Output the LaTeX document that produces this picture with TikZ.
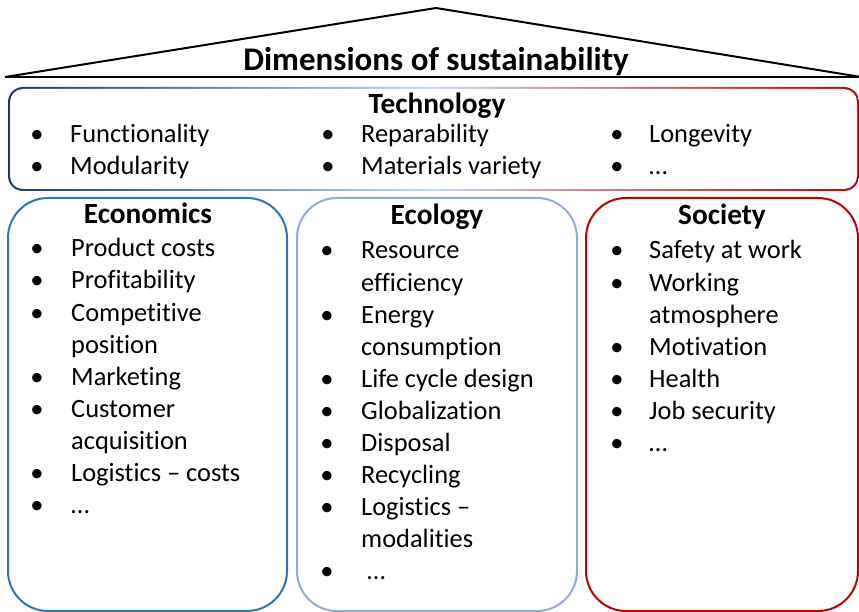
\documentclass[tikz,border=0pt]{standalone}
\usepackage{fontspec}
\setmainfont{Carlito}[Ligatures={NoCommon}]
\definecolor{econ}{HTML}{2E75B6}
\definecolor{ecol}{HTML}{8FAADC}
\definecolor{soc}{HTML}{C00000}
\definecolor{technavy}{HTML}{203864}
\definecolor{techmid}{HTML}{C5D9F1}
\definecolor{techred}{HTML}{C00000}
\tikzset{
  item/.style={anchor=base west, inner sep=0pt, font=\fontsize{26.4}{30}\selectfont},
  bul/.style={anchor=base, inner sep=0pt, font=\fontsize{26.4}{30}\selectfont},
  head/.style={anchor=base, inner sep=0pt, font=\fontsize{29.3}{34}\selectfont\bfseries},
  ttl/.style={anchor=base, inner sep=0pt, font=\fontsize{33}{38}\selectfont\bfseries},
  pillar/.style={line width=2pt, rounded corners=40pt},
  roofline/.style={line width=2pt, line join=miter}
}
\begin{document}
\begin{tikzpicture}[x=1pt,y=-1pt]
\useasboundingbox (0,0) rectangle (859,612);
% roof
\coordinate (rl) at (5,77);
\coordinate (ra) at (436,8);
\coordinate (rr) at (861,77);
\draw[roofline] (rl) -- (ra) -- (rr);
\draw[roofline] (rl) -- (rr);
\node[ttl] (title) at (436,71) {Dimensions of sustainability};
% technology box with gradient border
\shade[rounded corners=15pt, left color=technavy, right color=techred, middle color=techmid] (8,87) rectangle (859,191);
\fill[white, rounded corners=13pt] (10,89) rectangle (857,189);
\node[head] (tech) at (437,114) {Technology};
\node[bul] (tb1) at (37,143) {•};
\node[item] (t1) at (70,143) {Functionality};
\node[bul] (tb2) at (37,175) {•};
\node[item] (t2) at (70,175) {Modularity};
\node[bul] (tb3) at (328,143) {•};
\node[item] (t3) at (361,143) {Reparability};
\node[bul] (tb4) at (328,175) {•};
\node[item] (t4) at (361,175) {Materials variety};
\node[bul] (tb5) at (617,143) {•};
\node[item] (t5) at (649,143) {Longevity};
\node[bul] (tb6) at (617,175) {•};
\node[item] (t6) at (649,175) {…};
% pillars
\draw[pillar, econ] (8,198) rectangle (287,611);
\draw[pillar, ecol] (297,198) rectangle (577,611);
\draw[pillar, soc] (586,198) rectangle (858,611);
% economics
\node[head] (eh) at (148,224) {Economics};
\foreach \t [count=\i] in {Product costs, Profitability, Competitive, position, Marketing, Customer, acquisition, Logistics – costs, …}{
  \node[item] (e\i) at (71,{257+32*(\i-1)}) {\t};
}
\foreach \i in {1,2,3,5,6,8,9}{
  \node[bul] (eb\i) at (37,{257+32*(\i-1)}) {•};
}
% ecology
\node[head] (oh) at (437,225) {Ecology};
\foreach \t [count=\i] in {Resource, efficiency, Energy, consumption, Life cycle design, Globalization, Disposal, Recycling, Logistics –, modalities}{
  \node[item] (o\i) at (361,{259+32*(\i-1)}) {\t};
}
\foreach \i in {1,3,5,6,7,8,9}{
  \node[bul] (ob\i) at (327,{259+32*(\i-1)}) {•};
}
\node[bul] (ob11) at (327,579) {•};
\node[item] (o11) at (367,579) {…};
% society
\node[head] (sh) at (722,225) {Society};
\foreach \t [count=\i] in {Safety at work, Working, atmosphere, Motivation, Health, Job security, …}{
  \node[item] (s\i) at (649,{259+32*(\i-1)}) {\t};
}
\foreach \i in {1,2,4,5,6,7}{
  \node[bul] (sb\i) at (617,{259+32*(\i-1)}) {•};
}
\end{tikzpicture}
\end{document}
